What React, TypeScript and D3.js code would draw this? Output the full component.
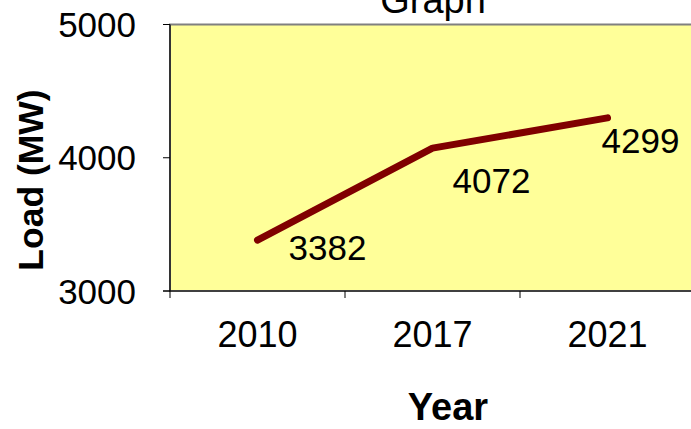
import React, { useEffect, useRef } from "react";
import * as d3 from "d3";

// Peak load by year
const years: string[] = ["2010", "2017", "2021"];
const loads: number[] = [3382, 4072, 4299];
const yTicks: number[] = [3000, 4000, 5000];

// Label offsets from each point (dx, dy)
const labelDx = [31, 20, -6];
const labelDy = [20, 45, 35];

const W = 691;
const H = 429;
const FONT = "'Liberation Sans', Arial, sans-serif";

export default function App() {
  const ref = useRef<SVGSVGElement | null>(null);

  useEffect(() => {
    const svg = d3.select(ref.current);
    svg.selectAll("*").remove();

    const left = 170;
    const right = 695;
    const top = 24.5;
    const bottom = 291;

    const x = d3.scaleBand<string>().domain(years).range([left, right]).padding(0);
    const y = d3.scaleLinear().domain([3000, 5000]).range([bottom, top]);

    // plot area
    svg
      .append("rect")
      .attr("x", left)
      .attr("y", top)
      .attr("width", right - left)
      .attr("height", bottom - top)
      .attr("fill", "#FFFF99")
      .attr("stroke", "#808080")
      .attr("stroke-width", 2);

    // title
    svg
      .append("text")
      .attr("x", 433)
      .attr("y", 13)
      .attr("text-anchor", "middle")
      .attr("font-family", FONT)
      .attr("font-size", 38)
      .attr("fill", "#000")
      .text("Graph");

    // y axis
    svg
      .append("line")
      .attr("x1", left)
      .attr("x2", left)
      .attr("y1", top)
      .attr("y2", bottom)
      .attr("stroke", "#000")
      .attr("stroke-width", 1.2);
    yTicks.forEach((t) => {
      svg
        .append("line")
        .attr("x1", left - 7)
        .attr("x2", left)
        .attr("y1", y(t))
        .attr("y2", y(t))
        .attr("stroke", "#000")
        .attr("stroke-width", 1);
      svg
        .append("text")
        .attr("x", 136)
        .attr("y", y(t))
        .attr("dy", "0.36em")
        .attr("text-anchor", "end")
        .attr("font-family", FONT)
        .attr("font-size", 35)
        .attr("fill", "#000")
        .text(String(t));
    });

    // x axis
    svg
      .append("line")
      .attr("x1", left - 7)
      .attr("x2", right)
      .attr("y1", bottom)
      .attr("y2", bottom)
      .attr("stroke", "#000")
      .attr("stroke-width", 1.2);
    years.forEach((yr) => {
      const x0 = x(yr)!;
      svg
        .append("line")
        .attr("x1", x0)
        .attr("x2", x0)
        .attr("y1", bottom)
        .attr("y2", bottom + 7)
        .attr("stroke", "#000")
        .attr("stroke-width", 1);
      svg
        .append("text")
        .attr("x", x0 + x.bandwidth() / 2)
        .attr("y", 347)
        .attr("text-anchor", "middle")
        .attr("font-family", FONT)
        .attr("font-size", 36)
        .attr("fill", "#000")
        .text(yr);
    });

    // axis titles
    svg
      .append("text")
      .attr("x", 448)
      .attr("y", 420)
      .attr("text-anchor", "middle")
      .attr("font-family", FONT)
      .attr("font-weight", "bold")
      .attr("font-size", 38)
      .attr("fill", "#000")
      .text("Year");
    svg
      .append("text")
      .attr("transform", `translate(43,180) rotate(-90)`)
      .attr("text-anchor", "middle")
      .attr("font-family", FONT)
      .attr("font-weight", "bold")
      .attr("font-size", 35.5)
      .attr("fill", "#000")
      .text("Load (MW)");

    // series line
    const data = years.map((yr, i) => ({ yr, v: loads[i] }));
    const line = d3
      .line<{ yr: string; v: number }>()
      .x((d) => x(d.yr)! + x.bandwidth() / 2)
      .y((d) => y(d.v));
    svg
      .append("path")
      .datum(data)
      .attr("d", line)
      .attr("fill", "none")
      .attr("stroke", "#800000")
      .attr("stroke-width", 7)
      .attr("stroke-linecap", "round")
      .attr("stroke-linejoin", "round");

    // value labels
    data.forEach((d, i) => {
      svg
        .append("text")
        .attr("x", x(d.yr)! + x.bandwidth() / 2 + labelDx[i])
        .attr("y", y(d.v) + labelDy[i])
        .attr("font-family", FONT)
        .attr("font-size", 35)
        .attr("fill", "#000")
        .text(String(d.v));
    });
  }, []);

  return (
    <svg
      ref={ref}
      width={W}
      height={H}
      style={{ position: "absolute", left: 0, top: 0, display: "block", background: "#fff" }}
    />
  );
}
